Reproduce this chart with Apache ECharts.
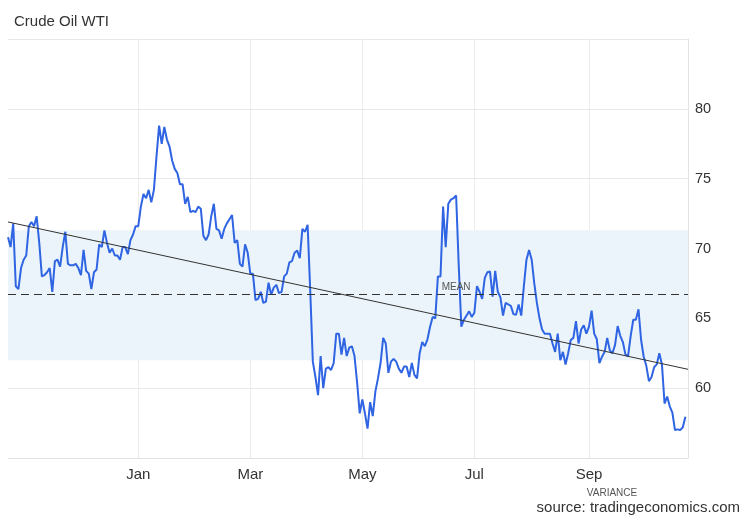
<!DOCTYPE html>
<html>
<head>
<meta charset="utf-8">
<title>Crude Oil WTI</title>
<script src="https://cdn.jsdelivr.net/npm/echarts@6/dist/echarts.min.js"></script>
<style>
html, body { margin: 0; padding: 0; background: #fff; }
#chart { width: 750px; height: 520px; }
</style>
</head>
<body>
<div id="chart"></div>
<script>
// daily closes, one per weekday
var oct24 = [70.8, 70.1, 71.8, 67.3, 67.1, 68.6, 69.2];
var nov24 = [69.5, 71.6, 71.9, 71.6, 72.3, 70.4, 68.0, 68.1, 68.3, 68.6, 66.9, 69.1, 69.2, 68.7, 70.1, 71.2, 68.9, 68.8, 68.8, 68.9, 68.6];
var dec24 = [68.1, 69.9, 68.4, 68.2, 67.1, 68.3, 68.5, 70.3, 70.1, 71.3, 70.4, 69.7, 70.0, 69.5, 69.5, 69.2, 70.1, 70.1, 69.6, 70.6, 71.0, 71.6];
var jan25 = [71.6, 73.0, 73.9, 73.6, 74.2, 73.3, 74.2, 76.6, 78.8, 77.5, 78.7, 77.8, 77.3, 76.3, 75.7, 75.4, 74.6, 74.6, 73.2, 73.7, 72.6, 72.7, 72.6];
var feb25 = [73.0, 72.85, 70.9, 70.6, 71.0, 72.3, 73.2, 71.4, 71.3, 70.7, 71.4, 71.8, 72.1, 72.4, 70.4, 70.6, 68.9, 68.7, 70.3, 69.7];
var mar25 = [68.2, 68.2, 66.3, 66.4, 66.9, 66.1, 66.2, 67.55, 66.7, 67.2, 67.4, 66.8, 66.9, 68.0, 68.2, 69.0, 69.1, 69.7, 69.85, 69.3, 71.4];
var apr25 = [71.2, 71.7, 67.0, 61.9, 60.8, 59.5, 62.3, 60.0, 61.4, 61.5, 61.3, 61.8, 63.9, 63.9, 62.4, 63.6, 62.3, 62.9, 63.0, 62.3, 60.4, 58.2];
var may25 = [59.2, 58.2, 57.1, 59.0, 58.0, 59.75, 60.7, 61.8, 63.6, 63.2, 61.1, 61.9, 62.1, 61.9, 61.4, 61.1, 61.55, 61.55, 60.8, 61.8, 60.95, 60.7];
var jun25 = [62.5, 63.3, 63.0, 63.5, 64.4, 65.1, 65.0, 68.0, 68.0, 73.0, 70.1, 73.2, 73.5, 73.6, 73.8, 68.8, 64.4, 64.9, 65.2, 65.5, 65.1];
var jul25 = [65.4, 67.3, 66.9, 66.4, 67.9, 68.3, 68.35, 66.55, 68.4, 66.9, 66.5, 65.2, 66.1, 66.0, 65.9, 65.3, 65.25, 66.0, 65.2, 67.3, 69.2, 69.9, 69.2];
var aug25 = [67.5, 66.1, 65.0, 64.2, 63.9, 63.9, 63.9, 63.2, 62.6, 63.9, 62.0, 62.6, 61.7, 62.5, 63.45, 63.6, 64.8, 63.2, 64.2, 64.5, 63.9];
var sep25 = [64.4, 65.55, 63.9, 63.5, 61.8, 62.25, 62.6, 63.6, 62.7, 62.5, 63.1, 64.45, 63.75, 63.3, 62.4, 62.3, 63.75, 64.9, 64.9, 65.65, 63.45, 62.25];
var oct25 = [61.6, 60.5, 60.8, 61.5, 61.7, 62.5, 61.7, 58.9, 59.4, 58.7, 58.25, 57.0, 57.05, 57.0, 57.2, 57.95];

var monthKeys = ['2024-10', '2024-11', '2024-12', '2025-01', '2025-02', '2025-03', '2025-04',
                 '2025-05', '2025-06', '2025-07', '2025-08', '2025-09', '2025-10'];
var monthData = [oct24, nov24, dec24, jan25, feb25, mar25, apr25, may25, jun25, jul25, aug25, sep25, oct25];

var tickMonths = ['2025-01', '2025-03', '2025-05', '2025-07', '2025-09'];
var tickNames = ['Jan', 'Mar', 'May', 'Jul', 'Sep'];
var yTicks = [60, 65, 70, 75, 80];

var meanValue = 66.7;
var varianceBand = [62.0, 71.3];
var trendEnds = [71.9, 61.35];

var categories = [];
var prices = [];
for (var m = 0; m < monthKeys.length; m++) {
    for (var d = 0; d < monthData[m].length; d++) {
        categories.push(monthKeys[m] + '|' + d);
        prices.push(monthData[m][d]);
    }
}
// axis runs a bit past the last close
categories.push('end|0');
prices.push(null);

function isTick(index, value) {
    var p = String(value).split('|');
    return p[1] === '0' && tickMonths.indexOf(p[0]) >= 0;
}

var font = "'Liberation Sans', Arial, sans-serif";
var myChart = echarts.init(document.getElementById('chart'));

var option = {
    animation: false,
    backgroundColor: '#fff',
    textStyle: { fontFamily: font },
    title: {
        text: 'Crude Oil WTI',
        left: 9,
        top: 9,
        textStyle: { fontSize: 15, fontWeight: 'normal', color: '#333', fontFamily: font }
    },
    grid: { left: 8, right: 62, top: 39, bottom: 62 },
    xAxis: {
        type: 'category',
        boundaryGap: false,
        data: categories,
        axisLine: { show: true, lineStyle: { color: '#e3e3e3' } },
        axisTick: { show: false },
        axisLabel: {
            interval: isTick,
            margin: 9,
            fontSize: 15,
            color: '#333',
            fontFamily: font,
            formatter: function (value) {
                var i = tickMonths.indexOf(value.split('|')[0]);
                return i >= 0 ? tickNames[i] : '';
            }
        },
        splitLine: { show: true, interval: isTick, lineStyle: { color: '#ececec' } }
    },
    yAxis: {
        type: 'value',
        position: 'right',
        min: 55,
        max: 85,
        interval: 5,
        axisLine: { show: true, lineStyle: { color: '#e3e3e3' } },
        axisTick: { show: false },
        axisLabel: {
            margin: 7,
            fontSize: 14.5,
            color: '#333',
            fontFamily: font,
            formatter: function (v) { return yTicks.indexOf(v) >= 0 ? String(v) : ''; }
        },
        splitLine: { lineStyle: { color: '#e8e8e8' } }
    },
    series: [
        {
            name: 'Crude Oil WTI',
            type: 'line',
            data: prices,
            showSymbol: false,
            lineStyle: { color: '#2f64e3', width: 2 },
            itemStyle: { color: '#2f64e3' },
            z: 3,
            markArea: {
                silent: true,
                itemStyle: { color: '#eaf4fa' },
                data: [[{ yAxis: varianceBand[0] }, { yAxis: varianceBand[1] }]]
            },
            markLine: {
                silent: true,
                symbol: ['none', 'none'],
                label: { show: false },
                data: [
                    { yAxis: meanValue, lineStyle: { color: '#333', width: 1, type: [8, 5] } },
                    [
                        { coord: [categories[0], trendEnds[0]], lineStyle: { color: '#333', width: 1, type: 'solid' } },
                        { coord: [categories[categories.length - 1], trendEnds[1]] }
                    ]
                ]
            }
        }
    ]
};
myChart.setOption(option);

// annotation texts
var meanPos = myChart.convertToPixel({ seriesIndex: 0 }, [categories[172], meanValue]) || [457, 293];
myChart.setOption({
    graphic: [
        {
            type: 'text',
            x: meanPos[0],
            y: meanPos[1] - 2,
            z: 10,
            style: { text: 'MEAN', fill: '#555', font: '10px ' + font, textAlign: 'center', textVerticalAlign: 'bottom' }
        },
        {
            type: 'text',
            x: 612,
            y: 493,
            style: { text: 'VARIANCE', fill: '#555', font: '10px ' + font, textAlign: 'center', textVerticalAlign: 'middle' }
        },
        {
            type: 'text',
            right: 10,
            top: 500,
            style: { text: 'source: tradingeconomics.com', fill: '#333', font: '15px ' + font }
        }
    ]
});
</script>
</body>
</html>
